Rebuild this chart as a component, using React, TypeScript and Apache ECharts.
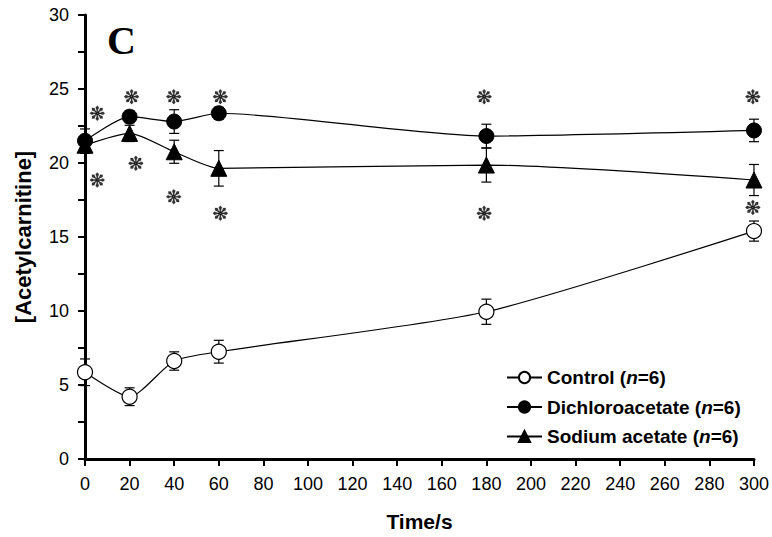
import React, { useEffect, useRef } from "react";
import * as echarts from "echarts";

const times = [0, 20, 40, 60, 180, 300];
const xTicks = [0, 20, 40, 60, 80, 100, 120, 140, 160, 180, 200, 220, 240, 260, 280, 300];

const seriesNames = ["Control", "Dichloroacetate", "Sodium acetate"];
const controlMean = [5.86, 4.21, 6.62, 7.25, 9.95, 15.4];
const controlErr = [0.9, 0.6, 0.62, 0.77, 0.85, 0.68];
const dcaMean = [21.5, 23.13, 22.8, 23.36, 21.82, 22.2];
const dcaErr = [0.8, 0.4, 0.8, 0.4, 0.8, 0.76];
const naMean = [21.2, 22.0, 20.76, 19.64, 19.86, 18.85];
const naErr = [0.55, 0.55, 0.78, 1.2, 1.15, 1.05];

const asteriskX = [5.5, 20.9, 39.8, 60.7, 179, 299.5, 5.5, 22.8, 39.8, 60.7, 179, 299.5];
const asteriskY = [23.36, 24.48, 24.48, 24.48, 24.48, 24.48, 18.85, 19.98, 17.72, 16.6, 16.6, 17.0];

const FONT = "Liberation Sans, Arial, sans-serif";

function asteriskPath(): string {
  const parts: string[] = [];
  for (let k = 0; k < 8; k++) {
    const t = (k * Math.PI) / 4;
    const p = (r: number, a: number) =>
      `${(r * Math.cos(t + a)).toFixed(3)} ${(r * Math.sin(t + a)).toFixed(3)}`;
    parts.push(
      `M ${p(0.1, -0.8)} L ${p(0.45, -0.18)} L ${p(0.8, -0.27)} L ${p(1, 0)} L ${p(0.8, 0.27)} L ${p(0.45, 0.18)} L ${p(0.1, 0.8)} Z`
    );
  }
  return "path://" + parts.join(" ");
}

function zip(xs: number[], ys: number[]) {
  return xs.map((x, i) => [x, ys[i]]);
}

function errData(means: number[], errs: number[]) {
  return times.map((t, i) => [t, means[i], errs[i]]);
}

const errorRender = (params: any, api: any) => {
  const x = api.value(0);
  const y = api.value(1);
  const e = api.value(2);
  const top = api.coord([x, y + e]);
  const bot = api.coord([x, y - e]);
  const hw = 5;
  const style = { stroke: "#000", lineWidth: 1.2 };
  return {
    type: "group",
    children: [
      { type: "line", shape: { x1: top[0], y1: top[1], x2: bot[0], y2: bot[1] }, style },
      { type: "line", shape: { x1: top[0] - hw, y1: top[1], x2: top[0] + hw, y2: top[1] }, style },
      { type: "line", shape: { x1: bot[0] - hw, y1: bot[1], x2: bot[0] + hw, y2: bot[1] }, style },
    ],
  };
};

export default function App() {
  const ref = useRef<HTMLDivElement>(null);
  useEffect(() => {
    if (!ref.current) return;
    const chart = echarts.init(ref.current, null, { renderer: "svg" });
    const lineBase = {
      type: "line",
      smooth: 0.22,
      clip: false,
      symbolSize: 15,
      lineStyle: { color: "#000", width: 1.2 },
      z: 3,
    };
    const richText = {
      b: { fontFamily: FONT, fontWeight: "bold", fontSize: 19, color: "#000", lineHeight: 20 },
      i: {
        fontFamily: FONT,
        fontWeight: "bold",
        fontStyle: "italic",
        fontSize: 19,
        color: "#000",
        lineHeight: 20,
      },
    };
    chart.setOption({
      animation: false,
      backgroundColor: "#fff",
      grid: { left: 85, right: 18, top: 15, bottom: 78, containLabel: false },
      xAxis: {
        type: "value",
        min: 0,
        max: 300,
        interval: 20,
        name: "Time/s",
        nameLocation: "middle",
        nameGap: 52,
        nameTextStyle: { fontFamily: FONT, fontWeight: "bold", fontSize: 21, color: "#000" },
        axisLine: { show: true, lineStyle: { color: "#000", width: 3 } },
        axisTick: { show: true, length: 7, lineStyle: { color: "#000", width: 2 } },
        axisLabel: {
          margin: 16,
          fontFamily: FONT,
          fontSize: 18,
          color: "#000",
          formatter: (v: number) => (xTicks.includes(v) ? String(v) : ""),
        },
        splitLine: { show: false },
      },
      yAxis: {
        type: "value",
        min: 0,
        max: 30,
        interval: 5,
        name: "[Acetylcarnitine]",
        nameLocation: "middle",
        nameGap: 51,
        nameTextStyle: { fontFamily: FONT, fontWeight: "bold", fontSize: 22, color: "#000" },
        axisLine: { show: true, lineStyle: { color: "#000", width: 3 } },
        axisTick: { show: true, length: 7, lineStyle: { color: "#000", width: 2 } },
        minorTick: { show: true, splitNumber: 2, length: 7, lineStyle: { color: "#000", width: 2 } },
        axisLabel: { margin: 16, fontFamily: FONT, fontSize: 18, color: "#000" },
        splitLine: { show: false },
      },
      legend: {
        orient: "vertical",
        left: 501,
        top: 363,
        itemWidth: 35,
        itemHeight: 14,
        itemGap: 10.5,
        data: seriesNames,
        formatter: (name: string) => `{b|${name} (}{i|n}{b|=6)}`,
        textStyle: { color: "#000", rich: richText },
      },
      graphic: [
        {
          type: "text",
          left: 107,
          top: 20,
          style: {
            text: "C",
            font: "bold 40px 'Liberation Serif', 'Times New Roman', serif",
            fill: "#000",
          },
        },
      ],
      series: [
        {
          type: "custom",
          name: "errControl",
          renderItem: errorRender,
          data: errData(controlMean, controlErr),
          z: 2,
          silent: true,
        },
        {
          type: "custom",
          name: "errDca",
          renderItem: errorRender,
          data: errData(dcaMean, dcaErr),
          z: 2,
          silent: true,
        },
        {
          type: "custom",
          name: "errNa",
          renderItem: errorRender,
          data: errData(naMean, naErr),
          z: 2,
          silent: true,
        },
        {
          ...lineBase,
          name: seriesNames[0],
          data: zip(times, controlMean),
          symbol: "circle",
          itemStyle: { color: "#fff", borderColor: "#000", borderWidth: 1.2 },
        },
        {
          ...lineBase,
          name: seriesNames[1],
          data: zip(times, dcaMean),
          symbol: "circle",
          itemStyle: { color: "#000", borderColor: "#000", borderWidth: 1 },
        },
        {
          ...lineBase,
          name: seriesNames[2],
          data: zip(times, naMean),
          symbol: "triangle",
          symbolSize: 16,
          itemStyle: { color: "#000", borderColor: "#000", borderWidth: 1 },
        },
        {
          type: "scatter",
          name: "asterisks",
          data: zip(asteriskX, asteriskY),
          symbol: asteriskPath(),
          symbolSize: 15,
          itemStyle: { color: "#000", borderColor: "#000", borderWidth: 0.3 },
          clip: false,
          silent: true,
          z: 4,
        },
      ],
    });
    return () => chart.dispose();
  }, []);
  return <div ref={ref} style={{ width: 772, height: 537, position: "absolute", left: 0, top: 0 }} />;
}
